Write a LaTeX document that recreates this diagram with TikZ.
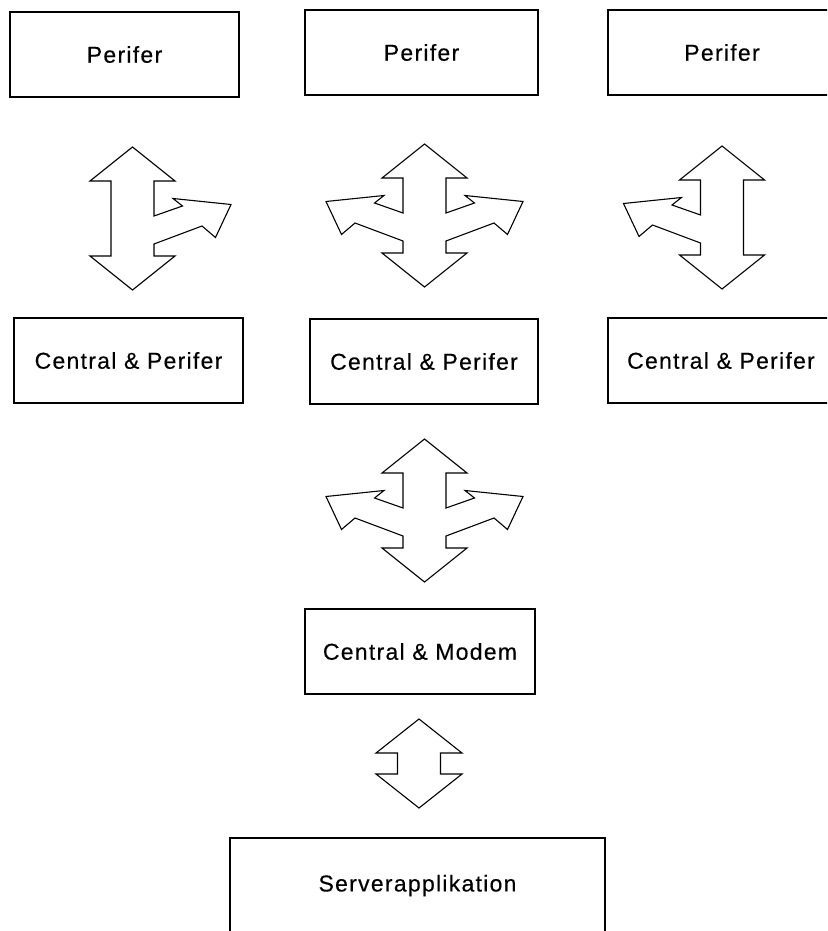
\documentclass[tikz,border=0pt]{standalone}
\usepackage{fontspec}
\newfontfamily\boxfont{Liberation Sans}[LetterSpace=5.5,FakeBold=0.3]
\begin{document}
\begin{tikzpicture}[x=1pt,y=-1pt,
  unit/.style={draw=black, line width=1.5pt, fill=white, minimum width=#1,
    minimum height=85pt, inner sep=0pt, outer sep=0pt, font=\boxfont\fontsize{23}{27}\selectfont},
  openunit/.style={unit=#1, draw=none},
  boxline/.style={draw=black, line width=1.8pt, line cap=rect},
  blockarrow/.style={draw=black, line width=1.1pt, line join=miter, fill=white},
  % vertical double arrow with a branch to each side
  splitboth/.pic={\draw[blockarrow] (0,0) -- (42.5,34) -- (21.5,34) -- (21.5,69)
    -- (50,59) -- (40.5,51.5) -- (98.5,57.5) -- (83,90.5) -- (69.5,79) -- (21.5,97)
    -- (21.5,109) -- (42.5,109) -- (0,143) -- (-42.5,109) -- (-21.5,109) -- (-21.5,97)
    -- (-69.5,79) -- (-83,90.5) -- (-98.5,57.5) -- (-40.5,51.5) -- (-50,59) -- (-21.5,69)
    -- (-21.5,34) -- (-42.5,34) -- cycle;},
  % vertical double arrow with a branch to the right
  splitright/.pic={\draw[blockarrow] (0,0) -- (42.5,34) -- (21.5,34) -- (21.5,69)
    -- (50,59) -- (40.5,51.5) -- (98.5,57.5) -- (83,90.5) -- (69.5,79) -- (21.5,97)
    -- (21.5,109) -- (42.5,109) -- (0,143) -- (-42.5,109) -- (-21.5,109)
    -- (-21.5,34) -- (-42.5,34) -- cycle;},
  % vertical double arrow with a branch to the left
  splitleft/.pic={\draw[blockarrow] (0,0) -- (42.5,34) -- (21.5,34)
    -- (21.5,109) -- (42.5,109) -- (0,143) -- (-42.5,109) -- (-21.5,109) -- (-21.5,97)
    -- (-69.5,79) -- (-83,90.5) -- (-98.5,57.5) -- (-40.5,51.5) -- (-50,59) -- (-21.5,69)
    -- (-21.5,34) -- (-42.5,34) -- cycle;},
  % short vertical double arrow
  updown/.pic={\draw[blockarrow] (0,0) -- (43,34) -- (21.5,34) -- (21.5,55) -- (43,55)
    -- (0,89) -- (-43,55) -- (-21.5,55) -- (-21.5,34) -- (-43,34) -- cycle;}]
\useasboundingbox (0,0) rectangle (827,931);
\clip (0,0) rectangle (827,931);

% boxes
\node[unit=229pt] (p1) at (124.5,54.5) {Perifer};
\node[unit=233pt] (p2) at (421.5,52.5) {Perifer};
\node[unit=229pt] (cp1) at (128.5,360.5) {Central \& Perifer};
\node[unit=228pt] (cp2) at (424,361.5) {Central \& Perifer};
\node[unit=230pt] (cm) at (420,651.5) {Central \& Modem};
\node[unit=375pt, minimum height=95pt] (srv) at (417.5,885.5) {Serverapplikation};

% right-hand boxes, open where they run past the page edge
\node[openunit=240pt] (p3) at (728,52.5) {\hspace*{-12pt}Perifer};
\node[openunit=240pt] (cp3) at (728,360.5) {\hspace*{-14pt}Central \& Perifer};
\draw[boxline] (p3.north east) -- (p3.north west) -- (p3.south west) -- (p3.south east);
\draw[boxline] (cp3.north east) -- (cp3.north west) -- (cp3.south west) -- (cp3.south east);

% block arrows between the boxes
\pic at (132.5,147) {splitright};
\pic at (424.5,144) {splitboth};
\pic at (722,146) {splitleft};
\pic at (424.5,439) {splitboth};
\pic at (419,719) {updown};
\end{tikzpicture}
\end{document}
